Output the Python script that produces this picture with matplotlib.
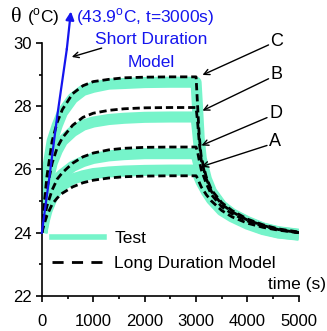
import matplotlib
matplotlib.use("Agg")
import matplotlib.pyplot as plt
from matplotlib.lines import Line2D

plt.rcParams['font.family'] = ['Liberation Sans', 'DejaVu Sans']
plt.rcParams['mathtext.fontset'] = 'custom'
plt.rcParams['mathtext.rm'] = 'Liberation Sans'

# time axis (s)
time_s = [0, 50, 100, 200, 300, 400, 600, 800, 1000, 1300, 1600, 2000, 2500, 3000,
          3030, 3060, 3100, 3200, 3300, 3500, 3700, 4000, 4300, 4600, 5000]

# test measurements (band centre, degC)
test_c = [24, 25.1, 25.9, 26.9, 27.4, 27.8, 28.25, 28.5, 28.6, 28.7, 28.72, 28.75, 28.76, 28.76,
          27.9, 27.0, 26.35, 25.7, 25.3, 24.85, 24.6, 24.35, 24.15, 24.03, 23.95]
test_b = [24, 24.9, 25.5, 26.2, 26.6, 26.9, 27.2, 27.4, 27.5, 27.58, 27.62, 27.65, 27.66, 27.66,
          27.2, 26.7, 26.2, 25.6, 25.25, 24.83, 24.58, 24.33, 24.14, 24.02, 23.94]
test_d = [24, 24.55, 24.9, 25.4, 25.7, 25.85, 26.1, 26.25, 26.35, 26.43, 26.47, 26.5, 26.5, 26.5,
          26.3, 26.1, 25.85, 25.45, 25.15, 24.78, 24.55, 24.3, 24.12, 24.0, 23.93]
test_a = [24, 24.4, 24.7, 25.1, 25.35, 25.5, 25.7, 25.8, 25.87, 25.92, 25.95, 25.97, 25.98, 25.98,
          25.9, 25.75, 25.6, 25.3, 25.05, 24.7, 24.5, 24.27, 24.1, 23.99, 23.92]

# long duration model (degC)
model_c = [24, 25.0, 25.8, 26.9, 27.5, 27.9, 28.4, 28.65, 28.78, 28.85, 28.9, 28.92, 28.93, 28.93,
           28.0, 27.1, 26.4, 25.75, 25.35, 24.95, 24.7, 24.43, 24.25, 24.12, 24.02]
model_b = [24, 24.8, 25.4, 26.2, 26.7, 27.0, 27.4, 27.65, 27.78, 27.87, 27.92, 27.95, 27.96, 27.96,
           27.5, 26.9, 26.3, 25.7, 25.3, 24.9, 24.66, 24.4, 24.23, 24.1, 24.0]
model_d = [24, 24.5, 24.85, 25.35, 25.7, 25.9, 26.2, 26.4, 26.52, 26.62, 26.67, 26.7, 26.71, 26.71,
           26.55, 26.3, 26.0, 25.55, 25.2, 24.82, 24.6, 24.37, 24.2, 24.1, 24.0]
model_a = [24, 24.3, 24.55, 24.9, 25.1, 25.25, 25.45, 25.58, 25.66, 25.73, 25.77, 25.79, 25.8, 25.8,
           25.72, 25.6, 25.45, 25.2, 25.0, 24.7, 24.5, 24.3, 24.17, 24.08, 24.0]

# short duration model (only start of the line is inside the plot)
short_time = [0, 150, 300, 485]
short_temp = [24, 25.8, 27.7, 29.8]

labels = ['C', 'B', 'D', 'A']
# arrow tip (on curve) and label position
tips = [(3125, 28.99), (3125, 27.86), (3105, 26.76), (3105, 26.09)]
label_pos = [(4450, 30.06), (4450, 28.99), (4420, 27.76), (4420, 26.88)]

test_col = '#76F4CA'
blue = '#1515EE'
fs = 12.5

fig = plt.figure(figsize=(3.27, 3.31), dpi=100)
ax = fig.add_axes([0.128, 0.106, 0.786, 0.764])

for y in [test_c, test_b, test_d, test_a]:
    ax.plot(time_s, y, color=test_col, lw=8, solid_capstyle='butt', zorder=1)
for y in [model_c, model_b, model_d, model_a]:
    ax.plot(time_s, y, color='black', lw=2, dashes=(2.6, 1.4), zorder=2)

ax.plot(short_time, short_temp, color=blue, lw=1.6, zorder=3, clip_on=False)
ax.annotate('', xy=(565, 31.0), xytext=(short_time[-1], short_temp[-1]),
            arrowprops=dict(arrowstyle='-|>', color=blue, lw=1.6, mutation_scale=12,
                            shrinkA=0, shrinkB=0), annotation_clip=False)

ax.text(660, 30.82, r'(43.9$^{\rm o}$C, t=3000s)', color=blue, fontsize=fs,
        ha='left', va='center', clip_on=False)
ax.text(2130, 30.1, 'Short Duration', color=blue, fontsize=fs, ha='center', va='center')
ax.text(2130, 29.37, 'Model', color=blue, fontsize=fs, ha='center', va='center')
ax.annotate('', xy=(582, 29.56), xytext=(1164, 29.84),
            arrowprops=dict(arrowstyle='->', color='black', lw=1, shrinkA=0, shrinkB=0))

for lab, tip, pos in zip(labels, tips, label_pos):
    ax.text(pos[0], pos[1], lab, fontsize=fs + 0.5, ha='left', va='center', clip_on=False)
    ax.annotate('', xy=tip, xytext=(pos[0] - 40, pos[1] - 0.12),
                arrowprops=dict(arrowstyle='->', color='black', lw=1, shrinkA=0, shrinkB=0),
                annotation_clip=False)

ax.set_xlim(0, 5000)
ax.set_ylim(22, 30)
ax.set_xticks(range(0, 5001, 1000))
ax.set_xticks(range(500, 5000, 1000), minor=True)
ax.set_yticks([22, 24, 26, 28, 30])
ax.set_yticks([23, 25, 27, 29], minor=True)
ax.tick_params(labelsize=12, width=1.2, length=4, pad=3)
ax.tick_params(axis='x', pad=9)
ax.tick_params(which='minor', width=1.2, length=2)
for s in ['top', 'right']:
    ax.spines[s].set_visible(False)
for s in ['left', 'bottom']:
    ax.spines[s].set_linewidth(1.2)

handles = [Line2D([], [], color=test_col, lw=4),
           Line2D([], [], color='black', lw=2, dashes=(4, 3))]
ax.legend(handles, ['Test', 'Long Duration Model'], loc='center left',
          bbox_to_anchor=(0.039, 0.178), frameon=False, fontsize=fs, borderpad=0,
          borderaxespad=0, handlelength=3.0, handletextpad=0.6, labelspacing=0.6)

fig.text(0.034, 0.948, '\u03b8', family='Liberation Serif', fontsize=16, ha='left', va='center')
fig.text(0.083, 0.948, r'($^{\rm o}$C)', fontsize=fs, ha='left', va='center')
fig.text(0.997, 0.139, 'time (s)', fontsize=fs, ha='right', va='center')

fig.savefig('out.png', dpi=100)
